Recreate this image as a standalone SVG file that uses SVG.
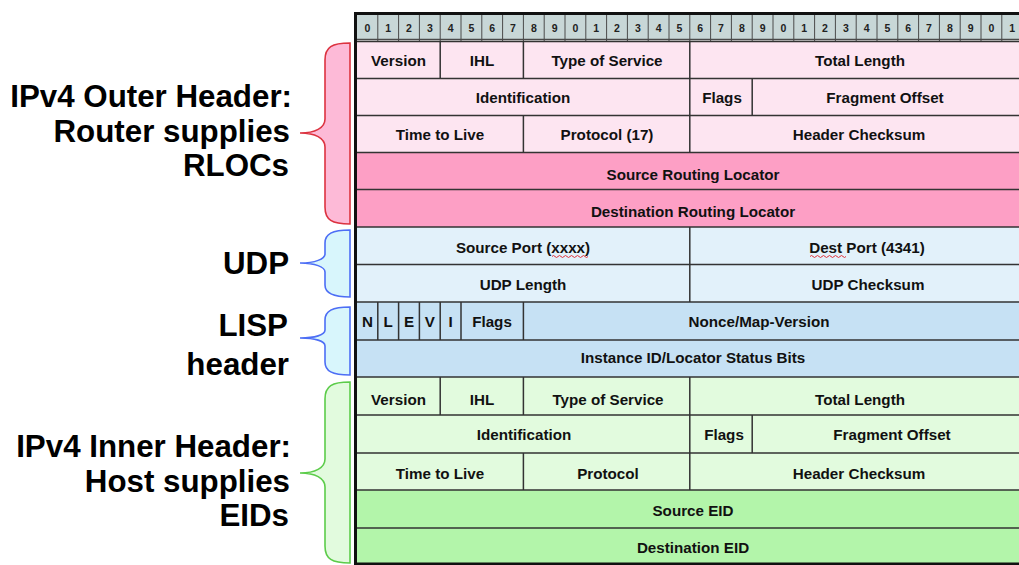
<svg xmlns="http://www.w3.org/2000/svg" width="1019" height="565" viewBox="0 0 1019 565">
  <style>
    .lbl { font-family: "Liberation Sans", Arial, Helvetica, sans-serif; font-weight: bold; font-size: 31.3px; fill: #000; text-anchor: end; }
    .fld { font-family: "Liberation Sans", Arial, Helvetica, sans-serif; font-weight: bold; font-size: 15.2px; fill: #111; text-anchor: middle; }
    .bit { font-family: "Liberation Sans", Arial, Helvetica, sans-serif; font-weight: bold; font-size: 10.5px; fill: #222; text-anchor: middle; }
    .grid { stroke: #333; stroke-width: 1.5; fill: none; }
    .rule { stroke: #4a4a4a; stroke-width: 1; fill: none; }
    .squiggle { stroke: #e0303a; stroke-width: 1; fill: none; }
  </style>

  <rect width="1019" height="565" fill="#ffffff"/>

  <!-- side labels -->
  <g id="label-outer">
    <text class="lbl" x="292" y="107">IPv4 Outer Header:</text>
    <text class="lbl" x="290" y="142">Router supplies</text>
    <text class="lbl" x="289" y="176">RLOCs</text>
  </g>
  <g id="label-udp">
    <text class="lbl" x="289" y="274">UDP</text>
  </g>
  <g id="label-lisp">
    <text class="lbl" x="288" y="336">LISP</text>
    <text class="lbl" x="289" y="375">header</text>
  </g>
  <g id="label-inner">
    <text class="lbl" x="291" y="457">IPv4 Inner Header:</text>
    <text class="lbl" x="290" y="492">Host supplies</text>
    <text class="lbl" x="289" y="526">EIDs</text>
  </g>

  <!-- curly braces -->
  <g id="braces" stroke-width="1.6">
    <path fill="#fdbad7" stroke="#dc3340" d="M350,43 C332,43 325,47 325,60 L325,119 C325,128 315,133 300,133 C315,133 325,138 325,147 L325,207 C325,220 332,224 350,224 Z"/>
    <path fill="#d8f6fc" stroke="#4d6ef5" d="M350,230 C332,230 325,234 325,243 L325,254 C325,259 315,263 300,263 C315,263 325,267 325,272 L325,285 C325,293 332,297 350,297 Z"/>
    <path fill="#d8f6fc" stroke="#4d6ef5" d="M350,307 C332,307 325,311 325,320 L325,330 C325,335 315,338 300,338 C315,338 325,341 325,346 L325,362 C325,371 332,375 350,375 Z"/>
    <path fill="#e2fbde" stroke="#5ccc4a" d="M350,382 C332,382 325,386 325,399 L325,459 C325,468 315,473 300,473 C315,473 325,478 325,487 L325,546 C325,559 332,563 350,563 Z"/>
  </g>

  <!-- bit ruler -->
  <g id="ruler">
    <rect x="355" y="13" width="670" height="27" fill="#c8d7d7"/>
    <g class="rule">
      <path d="M377.8,14V42 M398.6,14V42 M419.4,14V42 M440.2,14V42 M461,14V42 M481.8,14V42 M502.6,14V42 M523.4,14V42 M544.2,14V42 M565,14V42 M585.8,14V42 M606.6,14V42 M627.4,14V42 M648.2,14V42 M669,14V42 M689.8,14V42 M710.6,14V42 M731.4,14V42 M752.2,14V42 M773,14V42 M793.8,14V42 M814.6,14V42 M835.4,14V42 M856.2,14V42 M877,14V42 M897.8,14V42 M918.6,14V42 M939.4,14V42 M960.2,14V42 M981,14V42 M1001.8,14V42"/>
      <path d="M355,39.5H1019" stroke-width="1.5"/>
    </g>
    <g class="bit">
      <text x="367.4" y="32">0</text><text x="388.2" y="32">1</text><text x="409" y="32">2</text><text x="429.8" y="32">3</text>
      <text x="450.6" y="32">4</text><text x="471.4" y="32">5</text><text x="492.2" y="32">6</text><text x="513" y="32">7</text>
      <text x="533.8" y="32">8</text><text x="554.6" y="32">9</text><text x="575.4" y="32">0</text><text x="596.2" y="32">1</text>
      <text x="617" y="32">2</text><text x="637.8" y="32">3</text><text x="658.6" y="32">4</text><text x="679.4" y="32">5</text>
      <text x="700.2" y="32">6</text><text x="721" y="32">7</text><text x="741.8" y="32">8</text><text x="762.6" y="32">9</text>
      <text x="783.4" y="32">0</text><text x="804.2" y="32">1</text><text x="825" y="32">2</text><text x="845.8" y="32">3</text>
      <text x="866.6" y="32">4</text><text x="887.4" y="32">5</text><text x="908.2" y="32">6</text><text x="929" y="32">7</text>
      <text x="949.8" y="32">8</text><text x="970.6" y="32">9</text><text x="991.4" y="32">0</text><text x="1012.2" y="32">1</text>
    </g>
  </g>

  <!-- outer IPv4 header -->
  <g id="outer-ipv4">
    <rect x="355" y="41.5" width="670" height="111" fill="#fde5f1"/>
    <rect x="355" y="152.5" width="670" height="74.5" fill="#fd9fc5"/>
    <path class="grid" d="M440.2,41.5V78.5 M523.4,41.5V78.5 M689.8,41.5V78.5 M689.8,78.5V115.5 M752.2,78.5V115.5 M523.4,115.5V152.5 M689.8,115.5V152.5"/>
    <g class="fld">
      <text x="398.5" y="66">Version</text>
      <text x="482" y="66">IHL</text>
      <text x="607" y="66">Type of Service</text>
      <text x="860" y="66">Total Length</text>
      <text x="523" y="103">Identification</text>
      <text x="722" y="103">Flags</text>
      <text x="885" y="103">Fragment Offset</text>
      <text x="440" y="140">Time to Live</text>
      <text x="607" y="140">Protocol (17)</text>
      <text x="859" y="140">Header Checksum</text>
      <text x="693" y="180">Source Routing Locator</text>
      <text x="693" y="217">Destination Routing Locator</text>
    </g>
  </g>

  <!-- UDP header -->
  <g id="udp">
    <rect x="355" y="227" width="670" height="75" fill="#e2f1fa"/>
    <path class="grid" d="M689.8,227V302"/>
    <g class="fld">
      <text x="523" y="253">Source Port (xxxx)</text>
      <text x="867" y="253">Dest Port (4341)</text>
      <text x="523" y="290">UDP Length</text>
      <text x="868" y="290">UDP Checksum</text>
    </g>
    <path class="squiggle" d="M552,256.5 q1.5,-2 3,0 t3,0 t3,0 t3,0 t3,0 t3,0 t3,0 t3,0 t3,0 t3,0 t3,0 t3,0"/>
    <path class="squiggle" d="M810,256.5 q1.5,-2 3,0 t3,0 t3,0 t3,0 t3,0 t3,0 t3,0 t3,0 t3,0 t3,0 t3,0 t3,0"/>
  </g>

  <!-- LISP header -->
  <g id="lisp">
    <rect x="355" y="302" width="670" height="75" fill="#c6e1f4"/>
    <path class="grid" d="M377.8,302V340 M398.6,302V340 M419.4,302V340 M440.2,302V340 M461,302V340 M523.4,302V340"/>
    <g class="fld">
      <text x="367.4" y="327">N</text>
      <text x="388.2" y="327">L</text>
      <text x="409" y="327">E</text>
      <text x="429.8" y="327">V</text>
      <text x="450.6" y="327">I</text>
      <text x="492" y="327">Flags</text>
      <text x="759" y="327">Nonce/Map-Version</text>
      <text x="693" y="363">Instance ID/Locator Status Bits</text>
    </g>
  </g>

  <!-- inner IPv4 header -->
  <g id="inner-ipv4">
    <rect x="355" y="377" width="670" height="113" fill="#e2fbde"/>
    <rect x="355" y="490" width="670" height="75" fill="#b3f5aa"/>
    <path class="grid" d="M440.2,377V415 M523.4,377V415 M689.8,377V415 M689.8,415V453 M752.2,415V453 M523.4,453V490 M689.8,453V490"/>
    <g class="fld">
      <text x="398.5" y="405">Version</text>
      <text x="482" y="405">IHL</text>
      <text x="608" y="405">Type of Service</text>
      <text x="860" y="405">Total Length</text>
      <text x="524" y="440">Identification</text>
      <text x="724" y="440">Flags</text>
      <text x="892" y="440">Fragment Offset</text>
      <text x="440" y="479">Time to Live</text>
      <text x="608" y="479">Protocol</text>
      <text x="859" y="479">Header Checksum</text>
      <text x="693" y="516">Source EID</text>
      <text x="693" y="553">Destination EID</text>
    </g>
  </g>

  <!-- row separators and outer frame -->
  <g id="frame">
    <path class="grid" d="M355,41.5H1019 M355,78.5H1019 M355,115.5H1019 M355,152.5H1019 M355,189.5H1019 M355,227H1019 M355,264.5H1019 M355,302H1019 M355,340H1019 M355,377H1019 M355,415H1019 M355,453H1019 M355,490H1019 M355,528H1019"/>
    <path d="M355.5,12.5V565 M354,13.5H1019 M354,564H1019" stroke="#111" stroke-width="3" fill="none"/>
  </g>
</svg>
